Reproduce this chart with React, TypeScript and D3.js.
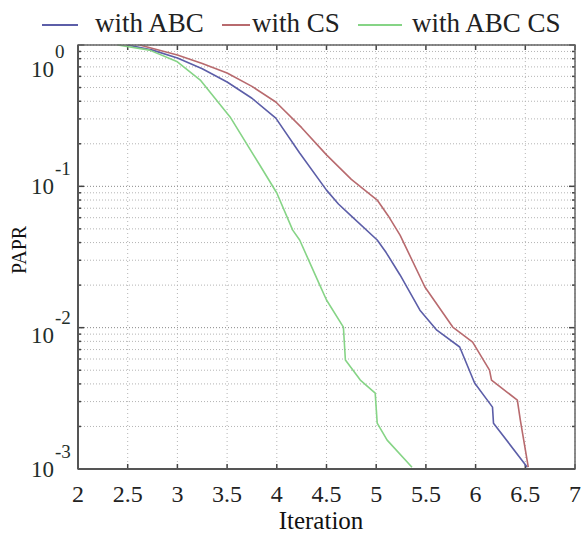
import React from "react";
import * as d3 from "d3";

// legend / series names
const seriesNames = ["with ABC", "with CS", "with ABC CS"];
const seriesColors = ["#5c5ea8", "#b86a6e", "#86d486"];

// with ABC
const abcX = [2.5, 2.75, 3.0, 3.25, 3.5, 3.75, 3.99, 4.23, 4.5, 4.62, 4.74, 5.01, 5.1, 5.24, 5.44, 5.61, 5.84, 5.99, 6.17, 6.18, 6.52];
const abcY = [1, 0.92, 0.809, 0.68, 0.547, 0.42, 0.304, 0.172, 0.094, 0.075, 0.0626, 0.0417, 0.034, 0.0236, 0.0133, 0.0096, 0.0073, 0.00406, 0.00274, 0.00211, 0.00103];

// with CS
const csX = [2.62, 3.0, 3.25, 3.5, 3.75, 3.99, 4.25, 4.5, 4.75, 5.01, 5.12, 5.24, 5.49, 5.77, 5.97, 6.14, 6.16, 6.42, 6.45, 6.53];
const csY = [1, 0.85, 0.74, 0.634, 0.51, 0.395, 0.26, 0.167, 0.112, 0.08, 0.062, 0.0452, 0.0194, 0.0101, 0.0079, 0.005, 0.00426, 0.00307, 0.00222, 0.00103];

// with ABC CS
const abccsX = [2.4, 2.72, 3.0, 3.23, 3.53, 3.83, 4.0, 4.16, 4.23, 4.41, 4.5, 4.67, 4.69, 4.84, 4.99, 5.01, 5.11, 5.36];
const abccsY = [1, 0.92, 0.76, 0.565, 0.31, 0.141, 0.0897, 0.049, 0.0417, 0.0217, 0.0157, 0.0101, 0.0059, 0.00426, 0.00344, 0.00211, 0.0016, 0.00103];

const xTicks = [2, 2.5, 3, 3.5, 4, 4.5, 5, 5.5, 6, 6.5, 7];
const yExponents = [0, -1, -2, -3];
// the exported figure has its "10" labels slightly uneven
const yLabelShift = [32, 8, 15, 8];

const W = 584;
const H = 537;
const margin = { top: 45, right: 9, bottom: 68, left: 78 };
const font = "'Liberation Serif', 'Times New Roman', serif";

export default function App() {
  const x = d3.scaleLinear().domain([2, 7]).range([margin.left, W - margin.right]);
  const y = d3.scaleLog().domain([1e-3, 1]).range([H - margin.bottom, margin.top]);

  const series = [
    abcX.map((v, i) => [v, abcY[i]]),
    csX.map((v, i) => [v, csY[i]]),
    abccsX.map((v, i) => [v, abccsY[i]]),
  ];

  const line = d3
    .line<number[]>()
    .x((d) => x(d[0]))
    .y((d) => y(d[1]));

  // minor + major log ticks
  const yGrid: number[] = [];
  for (let e = -3; e < 0; e++) {
    for (let m = 1; m < 10; m++) yGrid.push(m * Math.pow(10, e));
  }
  yGrid.push(1);

  const [x0, x1] = x.range();
  const [yb, yt] = y.range();

  // legend layout
  const legend = [
    { lx: 42, tx: 95 },
    { lx: 222, tx: 252 },
    { lx: 358, tx: 412 },
  ];
  const legendLen = [36, 28, 44];

  return (
    <svg
      width={W}
      height={H}
      style={{ position: "absolute", left: 0, top: 0, background: "#fff" }}
      fontFamily={font}
    >
      {/* grid */}
      <g>
        {yGrid.map((v, i) => {
          const major = Math.abs(Math.log10(v) % 1) < 1e-9;
          return (
            <line
              key={"gy" + i}
              x1={x0}
              x2={x1}
              y1={y(v)}
              y2={y(v)}
              stroke={major ? "#888" : "#b4b4b4"}
              strokeWidth={1}
              strokeDasharray="1,2"
            />
          );
        })}
        {xTicks.map((t) => (
          <line
            key={"gx" + t}
            x1={x(t)}
            x2={x(t)}
            y1={yt}
            y2={yb}
            stroke="#b4b4b4"
            strokeWidth={1}
            strokeDasharray="1,3"
          />
        ))}
      </g>

      {/* tick marks */}
      <g stroke="#444" strokeWidth={1.5}>
        {xTicks.map((t) => (
          <g key={"tx" + t}>
            <line x1={x(t)} x2={x(t)} y1={yb} y2={yb - 5} />
            <line x1={x(t)} x2={x(t)} y1={yt} y2={yt + 5} />
          </g>
        ))}
        {yGrid.map((v, i) => {
          const major = Math.abs(Math.log10(v) % 1) < 1e-9;
          const len = major ? 6 : 3;
          return (
            <g key={"ty" + i}>
              <line x1={x0} x2={x0 + len} y1={y(v)} y2={y(v)} />
              <line x1={x1} x2={x1 - len} y1={y(v)} y2={y(v)} />
            </g>
          );
        })}
      </g>

      {/* curves */}
      <g fill="none" strokeWidth={1.6} strokeLinejoin="round">
        {series.map((s, i) => (
          <path key={i} d={line(s) || ""} stroke={seriesColors[i]} />
        ))}
      </g>

      {/* frame */}
      <rect x={x0} y={yt} width={x1 - x0} height={yb - yt} fill="none" stroke="#666" strokeWidth={1.5} />
      <line x1={x0} x2={x1} y1={yb} y2={yb} stroke="#555" strokeWidth={2.2} />
      <line x1={x0} x2={x0} y1={yt} y2={yb} stroke="#555" strokeWidth={2} />

      {/* x tick labels */}
      <g fontSize={24} fill="#222" textAnchor="middle">
        {xTicks.map((t) => (
          <text key={"lx" + t} x={x(t)} y={502}>
            {String(t)}
          </text>
        ))}
      </g>
      <text x={321} y={529} fontSize={25} fill="#111" textAnchor="middle">
        Iteration
      </text>

      {/* y tick labels */}
      <g fill="#1e2e2a">
        {yExponents.map((e, i) => {
          const yy = y(Math.pow(10, e)) + yLabelShift[i];
          return (
            <g key={"ly" + e}>
              <text x={54} y={yy} fontSize={23} textAnchor="end">
                10
              </text>
              <text x={55} y={yy - 19} fontSize={19} textAnchor="start">
                {String(e)}
              </text>
            </g>
          );
        })}
      </g>
      <text
        transform={`translate(26,${250}) rotate(-90)`}
        fontSize={20}
        fill="#111"
        textAnchor="middle"
      >
        PAPR
      </text>

      {/* legend */}
      <g>
        {seriesNames.map((name, i) => (
          <g key={name}>
            <line
              x1={legend[i].lx}
              x2={legend[i].lx + legendLen[i]}
              y1={25}
              y2={25}
              stroke={seriesColors[i]}
              strokeWidth={2}
            />
            <text x={legend[i].tx} y={32} fontSize={27} fill="#222">
              {name}
            </text>
          </g>
        ))}
      </g>
    </svg>
  );
}
